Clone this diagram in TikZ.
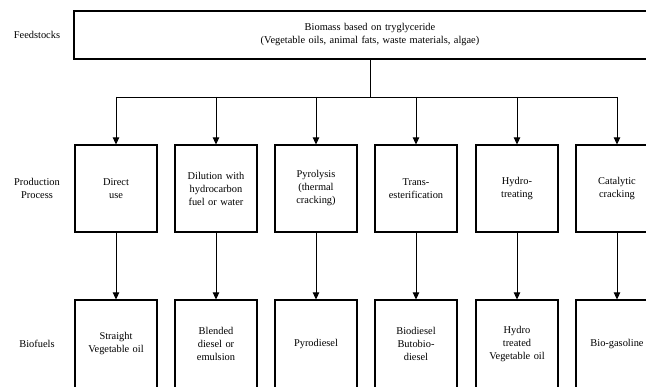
\documentclass[tikz,border=0pt]{standalone}
\usepackage{fontspec}
\setmainfont{Liberation Serif}
\usetikzlibrary{arrows.meta,calc,positioning}
\definecolor{negro}{HTML}{000000}

\tikzset{
  caja/.style={draw=negro,line width=1.2pt,text width=76pt,inner sep=3pt,minimum height=87pt,align=center,font=\fontsize{10.4pt}{13pt}\selectfont},
  etiqueta/.style={align=center,font=\fontsize{10.4pt}{13pt}\selectfont},
  flecha/.style={draw=negro,line width=1pt,-{Triangle[length=7pt,width=6.5pt]}},
  linea/.style={draw=negro,line width=0.9pt}
}

\begin{document}
\begin{tikzpicture}[x=1pt,y=-1pt]
\useasboundingbox[fill=white] (0,0) rectangle (646,387);

\node[etiqueta] (lfeed) at (37,35) {Feedstocks};
\node[etiqueta] (lproc) at (37,188) {Production\\Process};
\node[etiqueta] (lfuel) at (37,344) {Biofuels};

\node[caja,text width=586pt,minimum height=48pt] (feed) at (370,35)
{Biomass based on tryglyceride\\(Vegetable oils, animal fats, waste materials, algae)};

\node[caja] (proc1) at (116,188.5) {Direct\\use};
\node[caja] (proc2) at (216,188.5) {Dilution with\\hydrocarbon\\fuel or water};
\node[caja] (proc3) at (316,188.5) {Pyrolysis\\(thermal\\cracking)};
\node[caja] (proc4) at (416,188.5) {Trans-\\esterification};
\node[caja] (proc5) at (517,188.5) {Hydro-\\treating};
\node[caja] (proc6) at (617,188.5) {Catalytic\\cracking};

\node[caja,minimum height=88pt] (fuel1) at (116,344) {Straight\\Vegetable oil};
\node[caja,minimum height=88pt] (fuel2) at (216,344) {Blended\\diesel or\\emulsion};
\node[caja,minimum height=88pt] (fuel3) at (316,344) {Pyrodiesel};
\node[caja,minimum height=88pt] (fuel4) at (416,344) {Biodiesel\\Butobio-\\diesel};
\node[caja,minimum height=88pt] (fuel5) at (517,344) {Hydro\\treated\\Vegetable oil};
\node[caja,minimum height=88pt] (fuel6) at (617,344) {Bio-gasoline};

\coordinate (bus) at (370,97);
\draw[linea] (feed.south) -- (bus);
\draw[linea] (bus -| proc1.north) -- (bus -| proc6.north);

\draw[flecha] (bus -| proc1.north) -- (proc1.north);
\draw[flecha] (bus -| proc2.north) -- (proc2.north);
\draw[flecha] (bus -| proc3.north) -- (proc3.north);
\draw[flecha] (bus -| proc4.north) -- (proc4.north);
\draw[flecha] (bus -| proc5.north) -- (proc5.north);
\draw[flecha] (bus -| proc6.north) -- (proc6.north);

\draw[flecha] (proc1.south) -- (fuel1.north);
\draw[flecha] (proc2.south) -- (fuel2.north);
\draw[flecha] (proc3.south) -- (fuel3.north);
\draw[flecha] (proc4.south) -- (fuel4.north);
\draw[flecha] (proc5.south) -- (fuel5.north);
\draw[flecha] (proc6.south) -- (fuel6.north);
\end{tikzpicture}
\end{document}
